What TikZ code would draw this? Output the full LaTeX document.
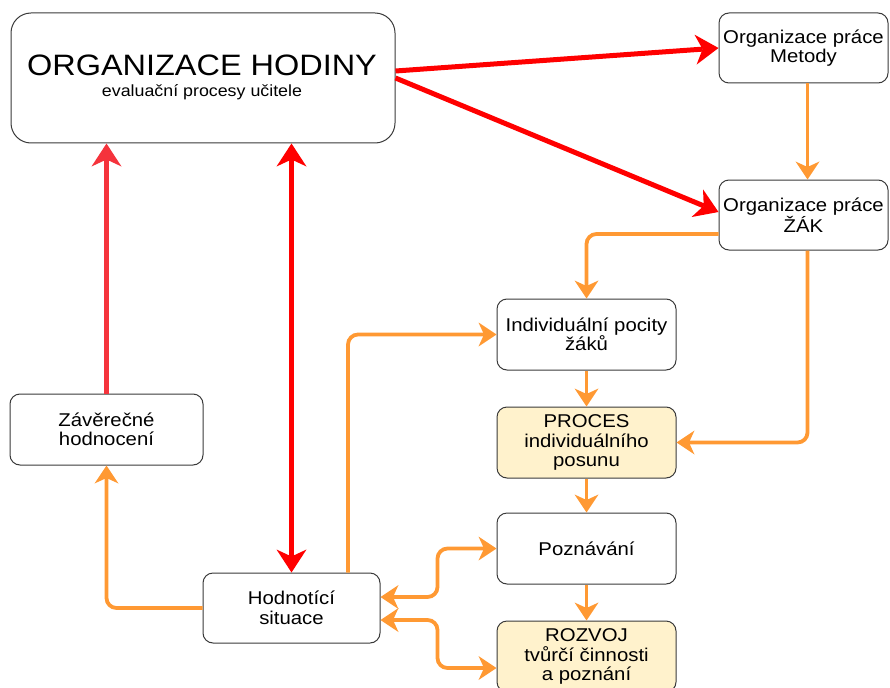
\documentclass[tikz,border=0pt]{standalone}
\usepackage{fontspec}
\setmainfont{Liberation Sans}[FakeStretch=1.1]
\usetikzlibrary{arrows.meta}

\definecolor{linkred}{HTML}{FF0000}
\definecolor{linkredsoft}{HTML}{F5333C}
\definecolor{linkorange}{HTML}{FF9933}
\definecolor{notefill}{HTML}{FFF2CC}
\definecolor{boxline}{HTML}{3A3A3A}

\begin{document}
\begin{tikzpicture}[x=1pt,y=-1pt,
  box/.style={draw=boxline, line width=1pt, rounded corners=10pt, fill=white,
    minimum width=179pt, minimum height=71pt, align=center, inner sep=0pt,
    font=\fontsize{18.5}{19.5}\selectfont},
  notebox/.style={box, fill=notefill},
  redhead/.tip={Stealth[length=23pt,width=30pt,inset=7pt,line width=0pt]},
  orangehead/.tip={Stealth[length=18pt,width=24pt,inset=5.5pt,line width=0pt]},
  redlink/.style={draw=linkred, line width=5pt},
  orangelink/.style={draw=linkorange, line width=3.8pt, rounded corners=10pt},
]
\useasboundingbox (0,0) rectangle (890,687);

% boxes
\node[box, rounded corners=20pt, minimum width=384pt, minimum height=130pt] (main) at (203,78) {};
\node[anchor=base, font=\fontsize{29.5}{31}\selectfont] (title) at (202,76) {ORGANIZACE HODINY};
\node[anchor=base, font=\fontsize{16.2}{18}\selectfont] (subtitle) at (202,97) {evaluační procesy učitele};

\node[box, minimum width=169pt, minimum height=70pt] (metody) at (803.5,48) {Organizace práce\\Metody};
\node[box, minimum width=169pt, minimum height=70pt] (zak) at (803.5,215) {Organizace práce\\ŽÁK};
\node[box] (pocity) at (586.5,334.5) {Individuální pocity\\žáků};
\node[notebox] (proces) at (586.5,442.5) {PROCES\\individuálního\\posunu};
\node[box] (pozn) at (586.5,548.5) {Poznávání};
\node[notebox] (rozvoj) at (586.5,656.5) {ROZVOJ\\tvůrčí činnosti\\a poznání};
\node[box, minimum width=193pt] (zaver) at (106.5,429.5) {Závěrečné\\hodnocení};
\node[box, minimum width=177pt, minimum height=70pt] (hodn) at (291.5,608) {Hodnotící\\situace};

% red links
\draw[redlink, -redhead] ([yshift=7pt]main.east) -- (metody.west);
\draw[redlink, -redhead] (main.east) -- ([yshift=3pt]zak.west);
\draw[redlink, draw=linkredsoft, -redhead] (zaver.north) -- (zaver.north |- main.south);
\draw[redlink, redhead-redhead] (main.south -| hodn.north) -- (hodn.north);

% orange links
\draw[orangelink, -orangehead] ([xshift=4pt]metody.south) -- ([xshift=4pt]zak.north);
\draw[orangelink, -orangehead] ([yshift=-19pt]zak.west) -| (pocity.north);
\draw[orangelink, -orangehead] ([xshift=4pt]zak.south) |- (proces.east);
\draw[orangelink, -orangehead] (pocity.south) -- (proces.north);
\draw[orangelink, -orangehead] (proces.south) -- (pozn.north);
\draw[orangelink, -orangehead] (pozn.south) -- (rozvoj.north);
\draw[orangelink, -orangehead] ([xshift=56.5pt]hodn.north) |- (pocity.west);
\draw[orangelink, -orangehead] (hodn.west) -| (zaver.south);
\draw[orangelink, orangehead-orangehead] ([yshift=11pt]hodn.east) -- ++(57,0) |- (pozn.west);
\draw[orangelink, orangehead-orangehead] ([yshift=-12pt]hodn.east) -- ++(57,0) |- ([yshift=-11.5pt]rozvoj.west);
\end{tikzpicture}
\end{document}
